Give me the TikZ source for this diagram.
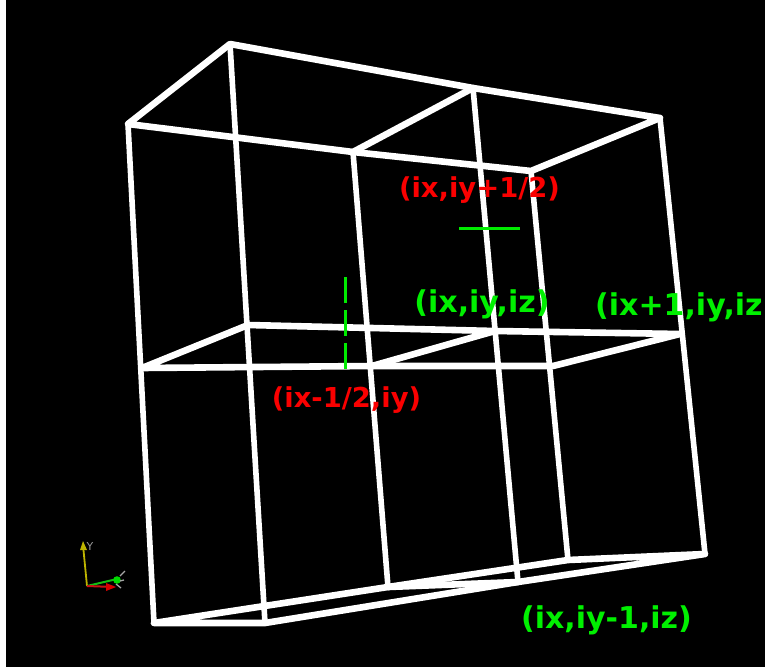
\documentclass[tikz,border=0pt]{standalone}
\usepackage{fontspec}
\setmainfont{DejaVu Sans}
\definecolor{lbl}{RGB}{0,240,0}
\definecolor{lblr}{RGB}{250,0,0}
\definecolor{mark}{RGB}{0,235,0}
\definecolor{axy}{RGB}{190,180,0}
\definecolor{axg}{RGB}{20,190,20}
\definecolor{axr}{RGB}{200,20,20}
\begin{document}
\begin{tikzpicture}[x=1pt,y=-1pt,
  wire/.style={draw=white,line width=6.6pt,line cap=round,line join=round},
  thinw/.style={draw=white,line width=5.6pt,line cap=round},
  greenlbl/.style={text=lbl,font=\fontsize{30}{30}\bfseries\selectfont,inner sep=0pt},
  redlbl/.style={text=lblr,font=\fontsize{27.4}{27.4}\bfseries\selectfont,inner sep=0pt},
  markline/.style={draw=mark,line width=3pt}]
\useasboundingbox (0,0) rectangle (765,669);
\fill[white] (0,0) rectangle (765,669);
\fill[black] (6,0) rectangle (765,667);
% top
\coordinate (tbl) at (230,44);
\coordinate (tfl) at (128,124);
\coordinate (tbm) at (473,88);
\coordinate (tfm) at (353,152);
\coordinate (tbr) at (660,118);
\coordinate (tfr) at (531,171);
% middle
\coordinate (mfl) at (142,368);
\coordinate (mbl) at (248,325);
\coordinate (mfm) at (372,366);
\coordinate (mbm) at (495,331);
\coordinate (mfr) at (553,366);
\coordinate (mbr) at (680,334);
% bottom
\coordinate (bfl) at (154,623);
\coordinate (bbl) at (265,623);
\coordinate (bfm) at (388,587);
\coordinate (bbm) at (518,582);
\coordinate (bfr) at (568,560);
\coordinate (bbr) at (705,554);
% verticals
\draw[thinw] (tfl) -- (bfl);
\draw[thinw] (tbl) -- (bbl);
\draw[thinw] (tfm) -- (bfm);
\draw[thinw] (tbm) -- (bbm);
\draw[thinw] (tfr) -- (bfr);
\draw[thinw] (tbr) -- (bbr);
% top face
\draw[wire] (tfl) -- (tbl) -- (tbm) -- (tbr) -- (tfr) -- (tfm) -- (tfl);
\draw[wire] (tfm) -- (tbm);
% middle face
\draw[wire] (mfl) -- (mbl) -- (mbm) -- (mbr) -- (mfr) -- (mfm) -- (mfl);
\draw[wire] (mfm) -- (mbm);
% bottom face
\draw[wire] (bfl) -- (bbl) -- (bbm) -- (bbr) -- (bfr) -- (bfm) -- (bfl);
\draw[wire] (bfm) -- (bbm);
% marks
\coordinate (da) at (345.5,277);
\coordinate (db) at (345.5,369);
\coordinate (ha) at (459,228);
\coordinate (hb) at (520,228);
\draw[markline,dash pattern=on 26pt off 7pt] (da) -- (db);
\draw[markline] (ha) -- (hb);
% labels
\node[redlbl] (l1) at (479.5,190.5) {(ix,iy+1/2)};
\node[greenlbl] (l2) at (482,304) {(ix,iy,iz)};
\node[greenlbl,anchor=west] (l3) at (595,307) {(ix+1,iy,iz};
\node[redlbl] (l4) at (346.5,400.5) {(ix-1/2,iy)};
\node[greenlbl] (l5) at (606.5,620) {(ix,iy-1,iz)};
% axes triad
\coordinate (o) at (87,586);
\coordinate (ay) at (83,545);
\coordinate (az) at (117,579);
\coordinate (ax) at (114,587);
\draw[axy,line width=1.8pt] (o) -- (ay);
\fill[axy] (83,541) -- (80,550) -- (87,550) -- cycle;
\draw[axg,line width=2pt] (o) -- (az);
\draw[axr,line width=2pt] (o) -- (ax);
\fill[red!85!black] (116,587) -- (106,583) -- (106,591) -- cycle;
\fill[green!85!black] (117,580) circle (3.8pt);
\draw[gray!70,line width=1.3pt] (120,576) -- (125,571) (120,581) -- (124,580) (116,584) -- (121,588);
\node[text=gray!80,font=\fontsize{11}{11}\selectfont,inner sep=0pt] (ly) at (90,546) {Y};
\end{tikzpicture}
\end{document}
